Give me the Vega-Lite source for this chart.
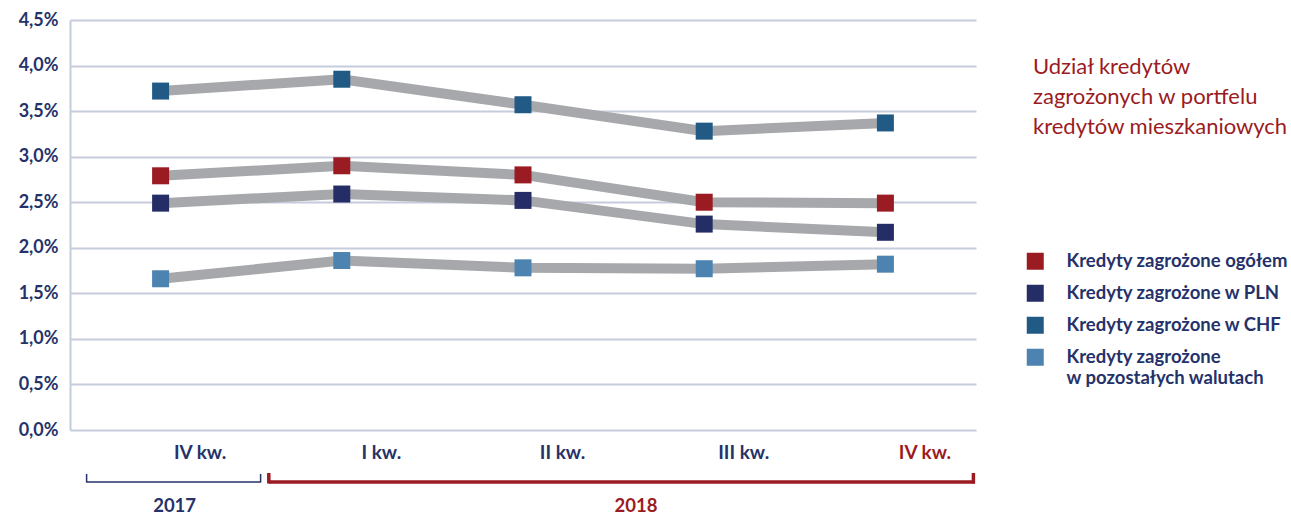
{
  "$schema": "https://vega.github.io/schema/vega-lite/v6.json",
  "width": 906,
  "height": 410,
  "autosize": {"type": "none"},
  "padding": {"left": 70, "top": 20, "right": 315, "bottom": 85},
  "background": "white",
  "title": {
    "text": ["Udział kredytów", "zagrożonych w portfelu", "kredytów mieszkaniowych"],
    "anchor": "start",
    "frame": "group",
    "orient": "top",
    "dx": 963,
    "dy": 128,
    "offset": 0,
    "baseline": "top",
    "font": "Lato",
    "fontSize": 22,
    "fontWeight": "normal",
    "color": "#9B1B22",
    "lineHeight": 30
  },
  "data": {
    "values": [
      {"q": "IV kw. 2017", "series": "Kredyty zagrożone ogółem", "v": 2.79},
      {"q": "I kw. 2018", "series": "Kredyty zagrożone ogółem", "v": 2.90},
      {"q": "II kw. 2018", "series": "Kredyty zagrożone ogółem", "v": 2.80},
      {"q": "III kw. 2018", "series": "Kredyty zagrożone ogółem", "v": 2.50},
      {"q": "IV kw. 2018", "series": "Kredyty zagrożone ogółem", "v": 2.49},
      {"q": "IV kw. 2017", "series": "Kredyty zagrożone w PLN", "v": 2.49},
      {"q": "I kw. 2018", "series": "Kredyty zagrożone w PLN", "v": 2.59},
      {"q": "II kw. 2018", "series": "Kredyty zagrożone w PLN", "v": 2.52},
      {"q": "III kw. 2018", "series": "Kredyty zagrożone w PLN", "v": 2.26},
      {"q": "IV kw. 2018", "series": "Kredyty zagrożone w PLN", "v": 2.17},
      {"q": "IV kw. 2017", "series": "Kredyty zagrożone w CHF", "v": 3.72},
      {"q": "I kw. 2018", "series": "Kredyty zagrożone w CHF", "v": 3.85},
      {"q": "II kw. 2018", "series": "Kredyty zagrożone w CHF", "v": 3.57},
      {"q": "III kw. 2018", "series": "Kredyty zagrożone w CHF", "v": 3.28},
      {"q": "IV kw. 2018", "series": "Kredyty zagrożone w CHF", "v": 3.37},
      {"q": "IV kw. 2017", "series": "Kredyty zagrożone w pozostałych walutach", "v": 1.66},
      {"q": "I kw. 2018", "series": "Kredyty zagrożone w pozostałych walutach", "v": 1.86},
      {"q": "II kw. 2018", "series": "Kredyty zagrożone w pozostałych walutach", "v": 1.78},
      {"q": "III kw. 2018", "series": "Kredyty zagrożone w pozostałych walutach", "v": 1.77},
      {"q": "IV kw. 2018", "series": "Kredyty zagrożone w pozostałych walutach", "v": 1.82}
    ]
  },
  "encoding": {
    "x": {
      "field": "q",
      "type": "nominal",
      "scale": {"type": "point", "padding": 0.5, "domain": ["IV kw. 2017", "I kw. 2018", "II kw. 2018", "III kw. 2018", "IV kw. 2018"]},
      "axis": {
        "title": null,
        "domain": false,
        "ticks": false,
        "grid": false,
        "labelAngle": 0,
        "labelOffset": 39,
        "labelPadding": 13,
        "labelBaseline": "top",
        "labelFont": "Lato",
        "labelFontSize": 19,
        "labelFontWeight": "bold",
        "labelColor": {"condition": {"test": "datum.value === 'IV kw. 2018'", "value": "#9B1B22"}, "value": "#253269"},
        "labelExpr": "split(datum.label, ' 20')[0]"
      }
    }
  },
  "layer": [
    {
      "mark": {"type": "line", "color": "#A7A8AB", "strokeWidth": 10},
      "encoding": {
        "y": {
          "field": "v",
          "type": "quantitative",
          "scale": {"domain": [0, 4.5], "nice": false},
          "axis": {
            "title": null,
            "values": [0, 0.5, 1, 1.5, 2, 2.5, 3, 3.5, 4, 4.5],
            "domain": true,
            "domainColor": "#C5CCDC",
            "domainWidth": 2,
            "ticks": false,
            "grid": true,
            "gridColor": "#C5CCDC",
            "gridWidth": 2,
            "labelPadding": 12,
            "labelFont": "Lato",
            "labelFontSize": 18,
            "labelFontWeight": "bold",
            "labelColor": "#253269",
            "labelExpr": "replace(format(datum.value, '.1f'), '.', ',') + '%'"
          }
        },
        "detail": {"field": "series"}
      }
    },
    {
      "mark": {"type": "point", "shape": "square", "filled": true, "opacity": 1, "size": 289},
      "encoding": {
        "y": {"field": "v", "type": "quantitative"},
        "color": {
          "field": "series",
          "type": "nominal",
          "scale": {
            "domain": ["Kredyty zagrożone ogółem", "Kredyty zagrożone w PLN", "Kredyty zagrożone w CHF", "Kredyty zagrożone w pozostałych walutach"],
            "range": ["#9B1B22", "#242D66", "#225A86", "#4D83B0"]
          },
          "legend": {
            "title": null,
            "orient": "none",
            "legendX": 956,
            "legendY": 232,
            "padding": 0,
            "symbolType": "square",
            "symbolSize": 289,
            "symbolStrokeWidth": 0,
            "symbolOpacity": 1,
            "rowPadding": 13,
            "labelOffset": 22,
            "labelFont": "Lato",
            "labelFontSize": 18.5,
            "labelFontWeight": "bold",
            "labelColor": "#253269",
            "labelLimit": 400,
            "labelExpr": "datum.label === 'Kredyty zagrożone w pozostałych walutach' ? ['Kredyty zagrożone', 'w pozostałych walutach'] : datum.label"
          }
        }
      }
    },
    {
      "data": {"values": [{"q": "IV kw. 2017"}]},
      "mark": {"type": "rule", "color": "#253269", "strokeWidth": 1.5, "xOffset": -74, "x2Offset": 100, "yOffset": 52},
      "encoding": {"x2": {"field": "q"}, "y": {"datum": 0, "type": "quantitative"}}
    },
    {
      "data": {"values": [{"q": "IV kw. 2017"}]},
      "mark": {"type": "rule", "color": "#253269", "strokeWidth": 1.5, "xOffset": -74, "yOffset": 44, "y2Offset": 52.5},
      "encoding": {"y": {"datum": 0, "type": "quantitative"}, "y2": {"datum": 0}}
    },
    {
      "data": {"values": [{"q": "IV kw. 2017"}]},
      "mark": {"type": "rule", "color": "#253269", "strokeWidth": 1.5, "xOffset": 100, "yOffset": 44, "y2Offset": 52.5},
      "encoding": {"y": {"datum": 0, "type": "quantitative"}, "y2": {"datum": 0}}
    },
    {
      "data": {"values": [{"q1": "I kw. 2018", "q2": "IV kw. 2018"}]},
      "mark": {"type": "rule", "color": "#9B1B22", "strokeWidth": 3.5, "xOffset": -73, "x2Offset": 89.5, "yOffset": 52},
      "encoding": {"x": {"field": "q1", "type": "nominal"}, "x2": {"field": "q2"}, "y": {"datum": 0, "type": "quantitative"}}
    },
    {
      "data": {"values": [{"q": "I kw. 2018"}]},
      "mark": {"type": "rule", "color": "#9B1B22", "strokeWidth": 3.5, "xOffset": -73, "yOffset": 43, "y2Offset": 53.5},
      "encoding": {"y": {"datum": 0, "type": "quantitative"}, "y2": {"datum": 0}}
    },
    {
      "data": {"values": [{"q": "IV kw. 2018"}]},
      "mark": {"type": "rule", "color": "#9B1B22", "strokeWidth": 3.5, "xOffset": 88, "yOffset": 43, "y2Offset": 53.5},
      "encoding": {"y": {"datum": 0, "type": "quantitative"}, "y2": {"datum": 0}}
    },
    {
      "data": {"values": [{"q": "IV kw. 2017", "year": "2017"}]},
      "mark": {"type": "text", "color": "#253269", "dx": 14, "dy": 76, "baseline": "middle", "align": "center", "font": "Lato", "fontSize": 18.5, "fontWeight": "bold"},
      "encoding": {"y": {"datum": 0, "type": "quantitative"}, "text": {"field": "year"}}
    },
    {
      "data": {"values": [{"q": "II kw. 2018", "year": "2018"}]},
      "mark": {"type": "text", "color": "#9B1B22", "dx": 113, "dy": 76, "baseline": "middle", "align": "center", "font": "Lato", "fontSize": 18.5, "fontWeight": "bold"},
      "encoding": {"y": {"datum": 0, "type": "quantitative"}, "text": {"field": "year"}}
    }
  ],
  "config": {
    "view": {"stroke": null}
  }
}
